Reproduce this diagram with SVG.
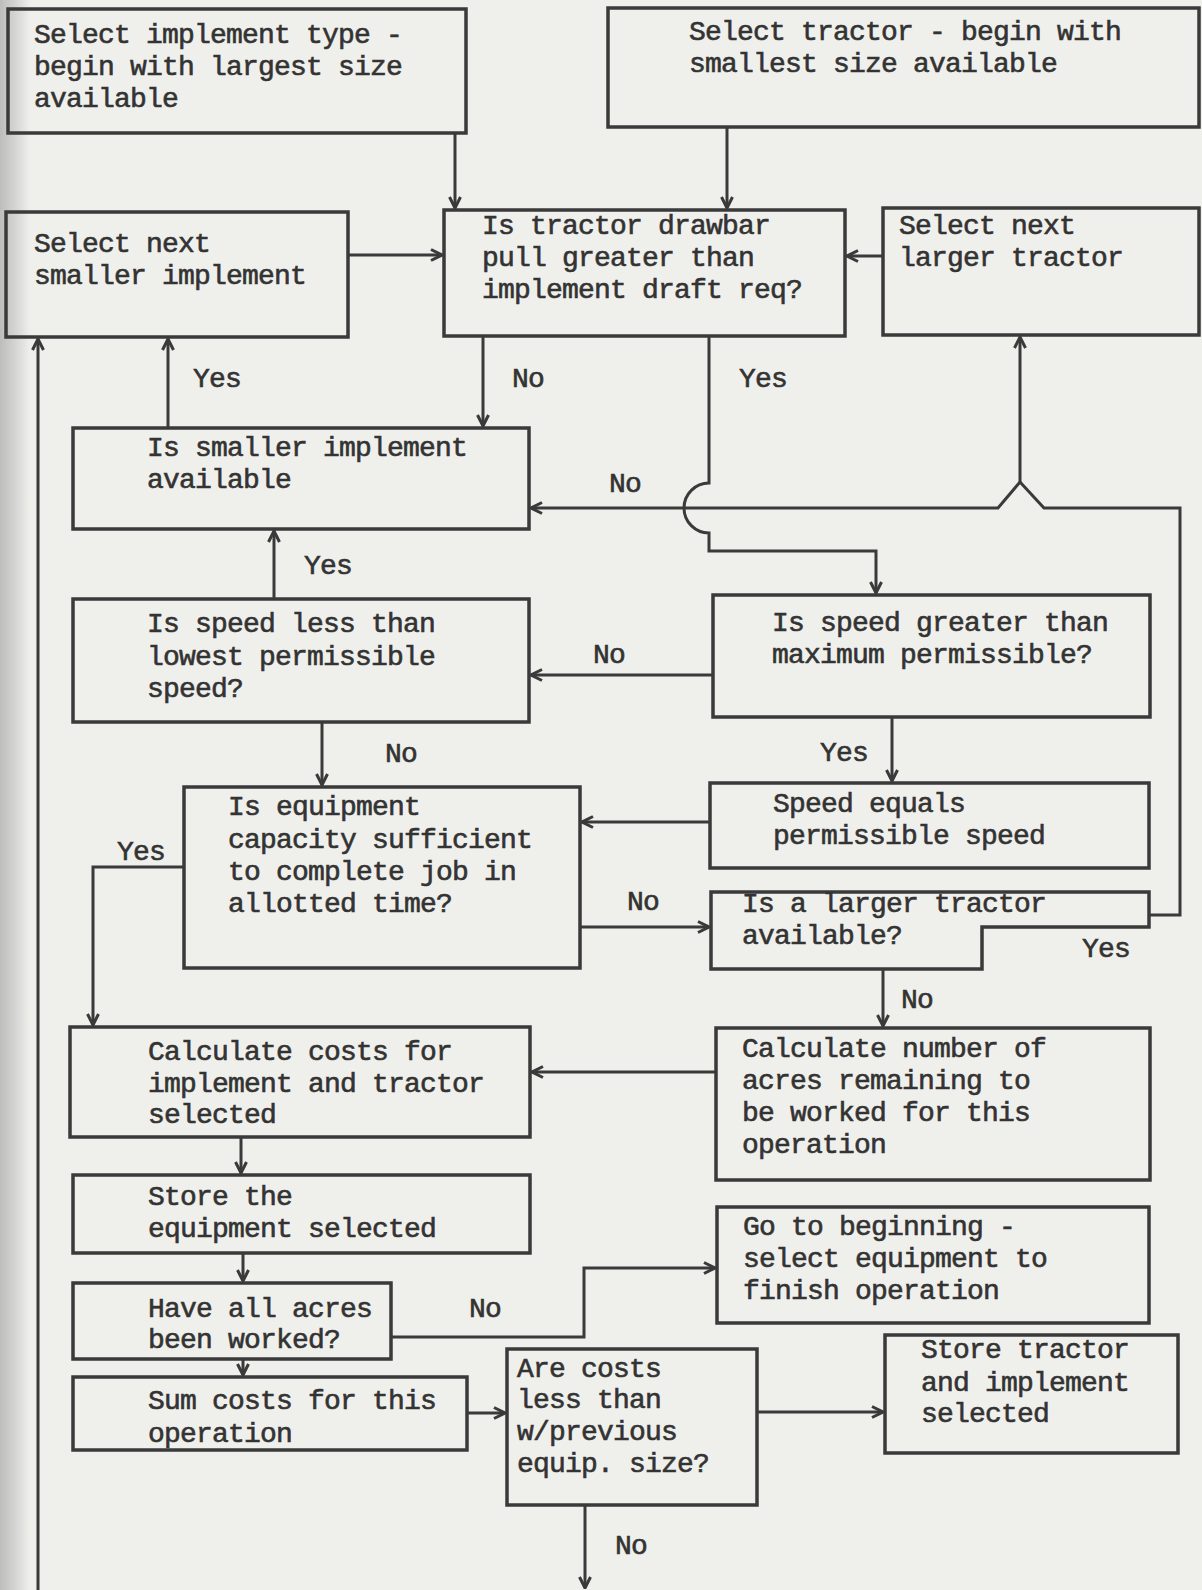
<svg xmlns="http://www.w3.org/2000/svg" width="1202" height="1590" viewBox="0 0 1202 1590">
<style>
.bg{fill:#efefec}
.box{fill:none;stroke:#3a3a3a;stroke-width:3.5;stroke-linejoin:miter}
.con{fill:none;stroke:#3a3a3a;stroke-width:3}
text{font-family:"Liberation Mono","Courier New",monospace;font-size:28px;letter-spacing:-0.8px;fill:#333333;stroke:#333333;stroke-width:0.6}
</style>
<defs>
<linearGradient id="edge" x1="0" y1="0" x2="1" y2="0">
<stop offset="0" stop-color="#bdbdbb"/>
<stop offset="0.6" stop-color="#d9d9d7"/>
<stop offset="1" stop-color="#efefec"/>
</linearGradient>
<marker id="arr" markerUnits="userSpaceOnUse" markerWidth="14" markerHeight="14" viewBox="0 0 14 14" refX="13" refY="7" orient="auto">
<path d="M2,1.5 L13,7 L2,12.5" fill="none" stroke="#3a3a3a" stroke-width="3"/>
</marker>
</defs>
<rect class="bg" x="0" y="0" width="1202" height="1590"/>
<rect x="0" y="0" width="30" height="1590" fill="url(#edge)"/>

<g id="n1"><rect class="box" x="8" y="9" width="458" height="124"/>
<text x="34" y="43">Select implement type -</text><text x="34" y="75">begin with largest size</text><text x="34" y="107">available</text></g>
<g id="n2"><rect class="box" x="608" y="8" width="591" height="119"/>
<text x="689" y="40">Select tractor - begin with</text><text x="689" y="72">smallest size available</text></g>
<g id="n3"><rect class="box" x="6" y="212" width="342" height="125"/>
<text x="34" y="252">Select next</text><text x="34" y="284">smaller implement</text></g>
<g id="n4"><rect class="box" x="444" y="210" width="401" height="126"/>
<text x="482" y="234">Is tractor drawbar</text><text x="482" y="266">pull greater than</text><text x="482" y="298">implement draft req?</text></g>
<g id="n5"><rect class="box" x="883" y="208" width="316" height="127"/>
<text x="899" y="234">Select next</text><text x="899" y="266">larger tractor</text></g>
<g id="n6"><rect class="box" x="73" y="428" width="456" height="101"/>
<text x="147" y="456">Is smaller implement</text><text x="147" y="488">available</text></g>
<g id="n7"><rect class="box" x="73" y="599" width="456" height="123"/>
<text x="147" y="632">Is speed less than</text><text x="147" y="665">lowest permissible</text><text x="147" y="697">speed?</text></g>
<g id="n8"><rect class="box" x="713" y="595" width="437" height="122"/>
<text x="772" y="631">Is speed greater than</text><text x="772" y="663">maximum permissible?</text></g>
<g id="n9"><rect class="box" x="184" y="787" width="396" height="181"/>
<text x="228" y="815">Is equipment</text><text x="228" y="848">capacity sufficient</text><text x="228" y="880">to complete job in</text><text x="228" y="912">allotted time?</text></g>
<g id="n10"><rect class="box" x="710" y="783" width="439" height="85"/>
<text x="773" y="812">Speed equals</text><text x="773" y="844">permissible speed</text></g>
<g id="n11"><path class="box" d="M711,892 H1149 V927 H982 V969 H711 Z"/>
<text x="742" y="912">Is a larger tractor</text><text x="742" y="944">available?</text></g>
<g id="n12"><rect class="box" x="70" y="1027" width="460" height="110"/>
<text x="148" y="1060">Calculate costs for</text><text x="148" y="1092">implement and tractor</text><text x="148" y="1123">selected</text></g>
<g id="n13"><rect class="box" x="716" y="1028" width="434" height="152"/>
<text x="742" y="1057">Calculate number of</text><text x="742" y="1089">acres remaining to</text><text x="742" y="1121">be worked for this</text><text x="742" y="1153">operation</text></g>
<g id="n14"><rect class="box" x="73" y="1175" width="457" height="78"/>
<text x="148" y="1205">Store the</text><text x="148" y="1237">equipment selected</text></g>
<g id="n15"><rect class="box" x="73" y="1283" width="318" height="76"/>
<text x="148" y="1317">Have all acres</text><text x="148" y="1348">been worked?</text></g>
<g id="n16"><rect class="box" x="73" y="1377" width="394" height="73"/>
<text x="148" y="1409">Sum costs for this</text><text x="148" y="1442">operation</text></g>
<g id="n17"><rect class="box" x="717" y="1207" width="432" height="116"/>
<text x="743" y="1235">Go to beginning -</text><text x="743" y="1267">select equipment to</text><text x="743" y="1299">finish operation</text></g>
<g id="n18"><rect class="box" x="507" y="1349" width="250" height="156"/>
<text x="517" y="1377">Are costs</text><text x="517" y="1408">less than</text><text x="517" y="1440">w/previous</text><text x="517" y="1472">equip. size?</text></g>
<g id="n19"><rect class="box" x="885" y="1335" width="293" height="118"/>
<text x="921" y="1358">Store tractor</text><text x="921" y="1391">and implement</text><text x="921" y="1422">selected</text></g>

<g id="connectors">
<path class="con" d="M455,133 V208" marker-end="url(#arr)"/>
<path class="con" d="M727,127 V208" marker-end="url(#arr)"/>
<path class="con" d="M348,255 H442" marker-end="url(#arr)"/>
<path class="con" d="M883,256 H847" marker-end="url(#arr)"/>
<path class="con" d="M483,336 V426" marker-end="url(#arr)"/>
<path class="con" d="M709,336 V483 A25,25 0 0 0 709,533 V551 H876 V593" marker-end="url(#arr)"/>
<path class="con" d="M168,428 V339" marker-end="url(#arr)"/>
<path class="con" d="M38,1590 V339" marker-end="url(#arr)"/>
<path class="con" d="M274,599 V531" marker-end="url(#arr)"/>
<path class="con" d="M713,675 H531" marker-end="url(#arr)"/>
<path class="con" d="M322,722 V785" marker-end="url(#arr)"/>
<path class="con" d="M892,717 V781" marker-end="url(#arr)"/>
<path class="con" d="M710,822 H582" marker-end="url(#arr)"/>
<path class="con" d="M580,927 H709" marker-end="url(#arr)"/>
<path class="con" d="M184,867 H93 V1025" marker-end="url(#arr)"/>
<path class="con" d="M1149,915 H1180 V508 H1044 L1020,482 L998,508 H531" marker-end="url(#arr)"/>
<path class="con" d="M1020,482 V337" marker-end="url(#arr)"/>
<path class="con" d="M883,969 V1026" marker-end="url(#arr)"/>
<path class="con" d="M716,1072 H532" marker-end="url(#arr)"/>
<path class="con" d="M241,1137 V1173" marker-end="url(#arr)"/>
<path class="con" d="M243,1253 V1281" marker-end="url(#arr)"/>
<path class="con" d="M243,1359 V1375" marker-end="url(#arr)"/>
<path class="con" d="M391,1337 H584 V1268 H715" marker-end="url(#arr)"/>
<path class="con" d="M467,1413 H505" marker-end="url(#arr)"/>
<path class="con" d="M757,1412 H883" marker-end="url(#arr)"/>
<path class="con" d="M585,1505 V1588" marker-end="url(#arr)"/>
<text x="193" y="387">Yes</text>
<text x="512" y="387">No</text>
<text x="739" y="387">Yes</text>
<text x="609" y="492">No</text>
<text x="304" y="574">Yes</text>
<text x="593" y="663">No</text>
<text x="385" y="762">No</text>
<text x="820" y="761">Yes</text>
<text x="117" y="860">Yes</text>
<text x="627" y="910">No</text>
<text x="1082" y="957">Yes</text>
<text x="901" y="1008">No</text>
<text x="469" y="1317">No</text>
<text x="615" y="1554">No</text>
</g>
</svg>
